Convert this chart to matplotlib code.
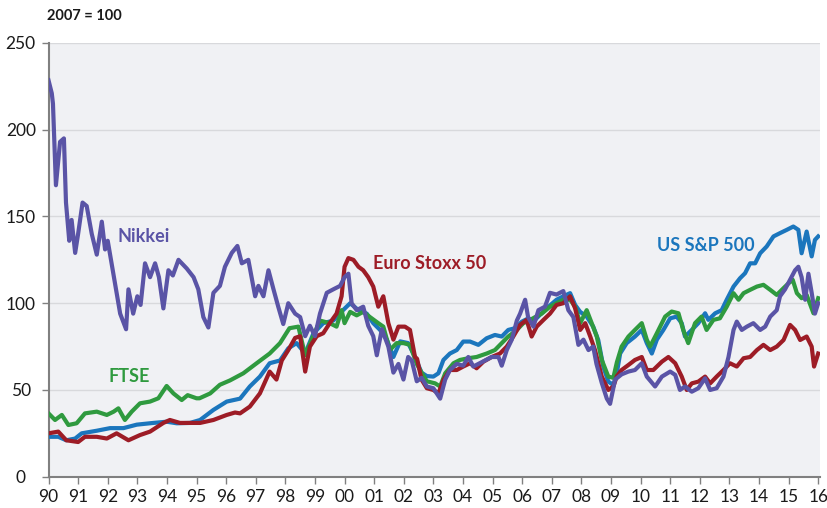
import matplotlib
matplotlib.use("Agg")
import matplotlib.pyplot as plt

plt.rcParams['font.family'] = ['Lato', 'DejaVu Sans']

# Nikkei (2007 = 100)
nikkei_t = [1990.0, 1990.11, 1990.15, 1990.22, 1990.25, 1990.39, 1990.52, 1990.59, 1990.70, 1990.78,
            1990.90, 1991.0, 1991.15, 1991.29, 1991.46, 1991.63, 1991.80, 1991.91, 1992.0, 1992.13,
            1992.30, 1992.42, 1992.62, 1992.70, 1992.86, 1993.0, 1993.11, 1993.26, 1993.43, 1993.60,
            1993.73, 1993.88, 1994.05, 1994.20, 1994.39, 1994.67, 1994.90, 1995.06, 1995.23, 1995.40,
            1995.57, 1995.79, 1995.96, 1996.19, 1996.38, 1996.53, 1996.75, 1996.98, 1997.09, 1997.26,
            1997.43, 1997.60, 1997.76, 1997.93, 1998.10, 1998.33, 1998.50, 1998.67, 1998.83, 1999.0,
            1999.17, 1999.40, 1999.62, 1999.85, 2000.0, 2000.13, 2000.24, 2000.41, 2000.63, 2000.80,
            2000.97, 2001.09, 2001.26, 2001.48, 2001.65, 2001.82, 2001.99, 2002.15, 2002.27, 2002.44,
            2002.60, 2002.78, 2003.0, 2003.23, 2003.40, 2003.56, 2003.79, 2004.01, 2004.18, 2004.35,
            2004.52, 2004.75, 2004.97, 2005.2, 2005.31, 2005.48, 2005.65, 2005.82, 2005.93, 2006.1,
            2006.2, 2006.38, 2006.55, 2006.77, 2006.94, 2007.16, 2007.39, 2007.56, 2007.73, 2007.9,
            2008.07, 2008.24, 2008.4, 2008.51, 2008.69, 2008.86, 2008.97, 2009.14, 2009.36, 2009.59,
            2009.81, 2010.04, 2010.21, 2010.49, 2010.72, 2011.0, 2011.17, 2011.33, 2011.5, 2011.73,
            2011.95, 2012.18, 2012.35, 2012.57, 2012.8, 2012.97, 2013.14, 2013.25, 2013.42, 2013.59,
            2013.81, 2014.04, 2014.21, 2014.38, 2014.6, 2014.71, 2014.88, 2015.05, 2015.22, 2015.33,
            2015.44, 2015.56, 2015.67, 2015.78, 2015.89, 2016.0]
nikkei_v = [228.5, 221, 215, 183, 168, 193, 195, 158, 136, 148,
            129, 140, 158, 156, 140, 128, 147, 131, 136, 123,
            106, 94, 85, 108, 94, 104, 99, 123, 115, 123,
            115, 97, 119, 116, 125, 120, 115, 108, 92, 86,
            106, 110, 121, 129, 133, 123, 125, 104, 110, 104,
            119, 108, 98, 88, 100, 94, 92, 81, 87, 81,
            94, 106, 108, 110, 115, 117, 100, 96, 98, 87,
            81, 70, 85, 75, 60, 65, 56, 69, 67, 55,
            57, 52, 51, 45, 56, 61.5, 65, 64, 69, 63.5,
            65, 67, 69, 69, 64, 73, 79, 90, 94, 102,
            92, 86.5, 96, 98, 106, 105, 107, 96, 92, 76,
            79, 73, 75, 65, 54, 45, 42, 56, 59, 60.6,
            61.5, 65.4, 57.7, 52, 57.7, 60.6, 58.7, 50, 52, 49,
            51, 56.7, 50, 51, 57.7, 69, 84.6, 89.4, 84.6, 86.5,
            88.5, 84.6, 86.5, 92.3, 96, 104, 108, 113.5, 119, 121,
            115, 102, 117, 106, 94, 100]

# Euro Stoxx 50
euro_t = [1990.0, 1990.33, 1990.6, 1991.0, 1991.23, 1991.63, 1991.97, 1992.3, 1992.7, 1993.09,
          1993.43, 1993.88, 1994.1, 1994.44, 1994.78, 1995.12, 1995.57, 1996.02, 1996.3, 1996.47,
          1996.8, 1997.14, 1997.47, 1997.7, 1997.88, 1998.1, 1998.33, 1998.5, 1998.67, 1998.83,
          1999.06, 1999.28, 1999.5, 1999.73, 1999.9, 2000.0, 2000.13, 2000.3, 2000.47, 2000.63,
          2000.8, 2000.97, 2001.14, 2001.31, 2001.48, 2001.65, 2001.82, 2002.04, 2002.21, 2002.38,
          2002.45, 2002.6, 2002.78, 2003.0, 2003.17, 2003.34, 2003.56, 2003.79, 2004.01, 2004.24,
          2004.46, 2004.69, 2004.97, 2005.25, 2005.48, 2005.7, 2005.93, 2006.15, 2006.32, 2006.49,
          2006.72, 2006.94, 2007.16, 2007.39, 2007.62, 2007.79, 2007.96, 2008.13, 2008.3, 2008.46,
          2008.69, 2008.91, 2009.08, 2009.2, 2009.36, 2009.59, 2009.81, 2010.04, 2010.21, 2010.43,
          2010.72, 2010.94, 2011.17, 2011.39, 2011.56, 2011.73, 2011.95, 2012.18, 2012.35, 2012.57,
          2012.8, 2013.02, 2013.25, 2013.48, 2013.7, 2013.93, 2014.15, 2014.38, 2014.6, 2014.83,
          2015.05, 2015.22, 2015.39, 2015.61, 2015.78, 2015.86, 2016.0]
euro_v = [25, 26, 21, 20, 23, 23, 22, 25, 21, 24,
          26, 31, 32.7, 31, 31, 31, 32.7, 35.6, 37, 36.5,
          40.4, 48, 60.6, 56, 67, 73, 80, 81, 60.6, 75,
          81, 82.7, 88.5, 94, 104, 121, 126, 125, 121, 119,
          115, 109.6, 98, 104, 88.5, 79, 86.5, 86.5, 84.6, 69,
          68, 56, 51, 50, 48, 55.8, 61.5, 61.5, 63.5, 65.4,
          62.5, 66.3, 69, 71, 75, 80.8, 87.5, 90.4, 80.8, 86.5,
          90.4, 94, 99, 100, 104, 97, 84.6, 88.5, 80.8, 73,
          57.7, 50, 52, 58, 61.5, 64.4, 67.3, 69, 61.5, 61.5,
          66.3, 69, 65.4, 57.7, 50, 53.8, 54.8, 57.7, 53.8, 57.7,
          61.5, 65.4, 63.5, 68.3, 69, 73, 76, 73, 75, 78.8,
          87.5, 84.6, 78.8, 80.8, 75, 63.5, 71]

# FTSE
ftse_t = [1990.0, 1990.22, 1990.45, 1990.67, 1990.95, 1991.23, 1991.63, 1991.97, 1992.2, 1992.36,
          1992.58, 1992.81, 1993.09, 1993.43, 1993.71, 1993.99, 1994.22, 1994.5, 1994.7, 1995.0,
          1995.1, 1995.46, 1995.79, 1996.13, 1996.58, 1997.03, 1997.47, 1997.82, 1998.14, 1998.44,
          1998.67, 1998.89, 1999.17, 1999.5, 1999.73, 1999.9, 2000.0, 2000.19, 2000.41, 2000.63,
          2000.86, 2001.14, 2001.31, 2001.53, 2001.76, 2001.99, 2002.21, 2002.44, 2002.6, 2002.78,
          2003.06, 2003.23, 2003.4, 2003.68, 2003.9, 2004.18, 2004.46, 2004.8, 2005.08, 2005.31,
          2005.53, 2005.82, 2006.04, 2006.27, 2006.44, 2006.66, 2006.94, 2007.16, 2007.39, 2007.62,
          2007.79, 2007.96, 2008.18, 2008.35, 2008.52, 2008.69, 2008.91, 2009.08, 2009.2, 2009.36,
          2009.59, 2009.81, 2010.04, 2010.21, 2010.32, 2010.55, 2010.83, 2011.05, 2011.28, 2011.44,
          2011.61, 2011.84, 2012.06, 2012.23, 2012.46, 2012.68, 2012.91, 2013.14, 2013.31, 2013.48,
          2013.7, 2013.93, 2014.15, 2014.38, 2014.6, 2014.83, 2015.0, 2015.14, 2015.28, 2015.44,
          2015.61, 2015.84, 2016.0]
ftse_v = [36.5, 32.7, 35.6, 29.8, 30.8, 36.5, 37.5, 35.6, 37.5, 39.4,
          32.7, 37.5, 42.3, 43.3, 45.2, 52.3, 48, 44.2, 47, 45.2,
          45.2, 48, 53, 55.5, 59.6, 65.4, 71, 77, 85.6, 86.5,
          70, 79, 90, 88.5, 86.5, 96, 88.5, 95, 93, 95,
          92, 88.5, 86.5, 73, 77, 77, 76, 65, 60, 55,
          53.8, 52, 59.6, 65.4, 67.3, 68.3, 69, 71, 73, 77,
          80.8, 84.6, 88.5, 90.4, 92, 94, 98, 100, 102, 102,
          98, 88.5, 96, 88.5, 80.8, 67.3, 57.7, 57, 66, 75,
          80.8, 84.6, 88.5, 79, 75, 82.7, 92.3, 95.2, 94.2, 84.6,
          77, 88.5, 92.3, 84.6, 90.4, 91.3, 98, 105.8, 102, 105.8,
          107.7, 109.6, 110.6, 107.7, 104.8, 108.7, 111.5, 113.5, 105.8, 102.9,
          104.8, 94.2, 102.9]

# US S&P 500
sp_t = [1990.0, 1990.33, 1990.6, 1990.9, 1991.12, 1991.63, 1992.08, 1992.53, 1992.98, 1993.54,
        1993.99, 1994.33, 1994.78, 1995.12, 1995.57, 1996.02, 1996.47, 1996.8, 1997.14, 1997.47,
        1997.82, 1998.1, 1998.38, 1998.67, 1998.95, 1999.28, 1999.62, 1999.95, 2000.19, 2000.47,
        2000.75, 2000.97, 2001.2, 2001.43, 2001.65, 2001.88, 2002.15, 2002.38, 2002.6, 2002.78,
        2003.0, 2003.17, 2003.34, 2003.56, 2003.79, 2004.01, 2004.24, 2004.52, 2004.8, 2005.08,
        2005.31, 2005.53, 2005.76, 2005.99, 2006.21, 2006.38, 2006.6, 2006.89, 2007.16, 2007.39,
        2007.62, 2007.79, 2007.96, 2008.18, 2008.4, 2008.57, 2008.74, 2008.91, 2009.08, 2009.2,
        2009.31, 2009.53, 2009.81, 2010.04, 2010.21, 2010.38, 2010.55, 2010.77, 2011.0, 2011.22,
        2011.39, 2011.5, 2011.73, 2011.95, 2012.18, 2012.29, 2012.52, 2012.74, 2012.91, 2013.14,
        2013.36, 2013.53, 2013.7, 2013.87, 2014.04, 2014.26, 2014.49, 2014.71, 2014.94, 2015.16,
        2015.33, 2015.44, 2015.61, 2015.78, 2015.89, 2016.0]
sp_v = [23, 23, 21, 22, 25, 26.5, 28, 28, 30, 31,
        31.7, 30.8, 31, 32.7, 38.5, 43.3, 45, 52, 57.7, 65.4,
        67, 74, 77, 71, 82.7, 88.5, 90, 96, 100, 96,
        94, 88.5, 84.6, 79, 69, 78, 77, 69, 60, 58,
        57.7, 59.6, 67.3, 71, 73, 77.9, 77.9, 76, 79.8, 81.7,
        80.8, 84.6, 85.6, 89.4, 91.3, 89.4, 93.3, 98, 102, 104,
        105.8, 99, 95, 92.3, 86.5, 78.8, 63.5, 54.8, 52.9, 60,
        71, 77, 80.8, 84.6, 77, 71, 79, 84.6, 91.3, 92.3,
        88.5, 80.8, 84.6, 88.5, 94.2, 90.4, 94.2, 96, 102, 109.6,
        114.4, 117.3, 123, 123, 128.8, 132.7, 138.5, 140.4, 142.3, 144.2,
        142.3, 128.8, 141.3, 127, 136.5, 138.5]

year_ticks = list(range(1990, 2017))
year_labels = ["%02d" % (y % 100) for y in year_ticks]

c_nikkei = "#5a54a6"
c_euro = "#9d1c26"
c_ftse = "#2f9a3f"
c_sp = "#1b76bd"

fig = plt.figure(figsize=(8.28, 5.08), dpi=100)
ax = fig.add_axes([0.0586, 0.0616, 0.9317, 0.8538])
ax.set_facecolor("#f0f1f4")

lw = 3.0
ax.plot(sp_t, sp_v, color=c_sp, lw=lw, zorder=3, solid_joinstyle="round")
ax.plot(ftse_t, ftse_v, color=c_ftse, lw=lw, zorder=4, solid_joinstyle="round")
ax.plot(euro_t, euro_v, color=c_euro, lw=lw, zorder=5, solid_joinstyle="round")
ax.plot(nikkei_t, nikkei_v, color=c_nikkei, lw=lw, zorder=6, solid_joinstyle="round")

ax.set_xlim(1990, 2016.06)
ax.set_ylim(0, 250)
ax.set_yticks([0, 50, 100, 150, 200, 250])
ax.set_xticks(year_ticks)
ax.set_xticklabels(year_labels)
ax.grid(axis="y", color="#d8d9dc", lw=1.0, zorder=1)
ax.set_axisbelow(True)

for s in ["top", "right"]:
    ax.spines[s].set_visible(False)
for s in ["left", "bottom"]:
    ax.spines[s].set_color("#808080")
    ax.spines[s].set_linewidth(1.5)

ax.tick_params(axis="x", direction="out", length=5, width=1, color="#808080",
               labelsize=12.5, pad=4, labelcolor="#1a1a1a")
ax.tick_params(axis="y", direction="out", length=5, width=1, color="#808080",
               labelsize=12.5, pad=15, labelcolor="#1a1a1a")
for lab in ax.get_yticklabels():
    lab.set_horizontalalignment("center")

# series labels
ax.text(1993.23, 138.7, "Nikkei", color=c_nikkei, fontsize=13, fontweight="bold",
        ha="center", va="center", zorder=7)
ax.text(2000.96, 123, "Euro Stoxx 50", color=c_euro, fontsize=13, fontweight="bold",
        ha="left", va="center", zorder=7)
ax.text(1992.01, 57.5, "FTSE", color=c_ftse, fontsize=13, fontweight="bold",
        ha="left", va="center", zorder=7)
ax.text(2010.55, 133, "US S&P 500", color=c_sp, fontsize=13, fontweight="bold",
        ha="left", va="center", zorder=7)

fig.text(47 / 828, 1 - 16 / 508, "2007 = 100", fontsize=10.5, fontweight="bold",
         ha="left", va="center", color="#1a1a1a")

fig.savefig("out.png", dpi=100)
